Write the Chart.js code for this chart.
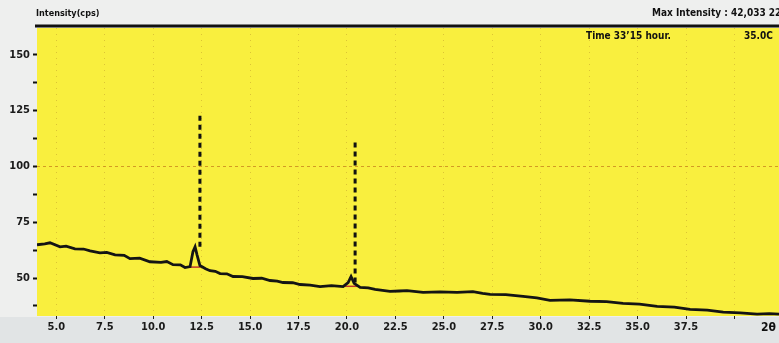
<!DOCTYPE html>
<html>
<head>
<meta charset="utf-8">
<script src="https://cdn.jsdelivr.net/npm/chart.js@4/dist/chart.umd.min.js"></script>
<style>
  html, body { margin: 0; padding: 0; background: #eeefee; }
  #wrap { width: 779px; height: 343px; position: relative; }
</style>
</head>
<body>
<div id="wrap"><canvas id="xrd" width="779" height="343"></canvas></div>
<script>
/* ===============================
   DATA
=============================== */
const twoTheta = [
  4.0, 4.4, 4.67, 5.19, 5.5, 5.96, 6.4, 6.74, 7.25, 7.6, 8.03, 8.5, 8.8, 9.3,
  9.83, 10.4, 10.7, 11.02, 11.4, 11.64, 11.9, 12.05, 12.16, 12.26, 12.41,
  12.7, 12.93, 13.2, 13.45, 13.8, 14.12, 14.6, 15.15, 15.6, 16.03, 16.4, 16.7,
  17.2, 17.58, 18.1, 18.61, 19.2, 19.8, 20.06, 20.21, 20.37, 20.68, 21.1,
  21.45, 22.22, 22.7, 23.1, 23.93, 24.8, 25.68, 26.5, 27.0, 27.39, 28.2,
  29.09, 29.8, 30.48, 31.5, 32.55, 33.4, 34.25, 35.1, 36.01, 36.9, 37.71,
  38.6, 39.42, 40.3, 41.17, 41.8, 42.3
];
const intensity = [
  64.9, 65.3, 65.8, 64.0, 64.3, 63.1, 63.0, 62.2, 61.3, 61.5, 60.4, 60.2, 58.7,
  58.9, 57.3, 57.0, 57.4, 56.0, 55.9, 54.7, 55.1, 61.8, 64.0, 60.4, 55.6,
  54.2, 53.3, 53.0, 52.0, 51.9, 50.7, 50.6, 49.8, 49.9, 48.9, 48.6, 48.0,
  47.9, 47.1, 46.8, 46.2, 46.6, 46.2, 48.0, 50.7, 47.6, 45.8, 45.6,
  44.9, 44.0, 44.2, 44.4, 43.6, 43.8, 43.6, 43.9, 43.1, 42.7, 42.6,
  41.8, 41.1, 40.0, 40.2, 39.6, 39.4, 38.7, 38.3, 37.3, 37.0, 36.0,
  35.6, 34.7, 34.4, 33.8, 34.1, 33.8
];

// reference peak markers (dashed sticks)
const markerPos = [12.41, 20.42];
const markerTop = [124.0, 111.6];
const markerBase = [64.0, 48.0];

// small red base segments under the two peaks
const peakBaseFrom = [11.8, 19.9];
const peakBaseTo = [12.45, 20.6];
const peakBaseLevel = [54.9, 46.3];

const yLabels = [50, 75, 100, 125, 150];

/* ===============================
   HELPERS
=============================== */
const FONT = '"DejaVu Sans Condensed", "Liberation Sans Narrow", "DejaVu Sans", sans-serif';
const series = twoTheta.map((x, i) => ({ x, y: intensity[i] }));

const markerSets = markerPos.map((x, i) => ({
  data: [{ x, y: markerBase[i] }, { x, y: markerTop[i] }],
  borderColor: '#111',
  borderWidth: 3,
  borderDash: [5, 4],
  pointRadius: 0,
  fill: false
}));

const baseSets = peakBaseFrom.map((x, i) => ({
  data: [{ x, y: peakBaseLevel[i] }, { x: peakBaseTo[i], y: peakBaseLevel[i] }],
  borderColor: '#c0392b',
  borderWidth: 1.5,
  pointRadius: 0,
  fill: false
}));

/* ===============================
   PAPER PLUGIN (yellow plot + header)
=============================== */
const paper = {
  id: 'paper',
  beforeDraw(chart) {
    const { ctx, chartArea: a } = chart;
    ctx.save();
    ctx.fillStyle = 'rgb(249, 239, 62)';
    ctx.fillRect(a.left, a.top, a.right - a.left, a.bottom - a.top);
    ctx.fillStyle = '#e1e4e5';
    ctx.fillRect(0, a.bottom + 1, chart.width, chart.height - a.bottom);
    ctx.restore();
  },
  afterDraw(chart) {
    const { ctx, chartArea: a } = chart;
    ctx.save();
    // top frame line
    ctx.strokeStyle = '#111';
    ctx.lineWidth = 3;
    ctx.beginPath();
    ctx.moveTo(a.left - 2, a.top - 2);
    ctx.lineTo(chart.width, a.top - 2);
    ctx.stroke();

    ctx.fillStyle = '#111';
    ctx.textBaseline = 'middle';
    ctx.font = 'bold 9px ' + FONT;
    ctx.fillText('Intensity(cps)', 36, 14);
    ctx.font = 'bold 10px ' + FONT;
    ctx.fillText('Max Intensity : 42,033 224', 652, 13);
    ctx.fillText('Time 33\u201915 hour.', 586, 36);
    ctx.fillText('35.0C', 744, 36);
    ctx.font = 'bold 12px ' + FONT;
    ctx.fillText('2\u03b8', 761, 328);
    ctx.restore();
  }
};

/* ===============================
   CHART
=============================== */
new Chart(document.getElementById('xrd'), {
  type: 'line',
  data: {
    datasets: [
      {
        data: series,
        borderColor: '#141414',
        borderWidth: 2.8,
        pointRadius: 0,
        tension: 0,
        fill: false
      },
      ...baseSets,
      ...markerSets
    ]
  },
  options: {
    responsive: false,
    animation: false,
    events: [],
    layout: { padding: { top: 28, right: 0, left: 0, bottom: 0 } },
    plugins: { legend: { display: false }, tooltip: { enabled: false } },
    scales: {
      x: {
        type: 'linear',
        min: 4.0,
        max: 42.3,
        afterFit: s => { s.height = 27; },
        border: { display: false, dash: [1, 5] },
        grid: {
          color: 'rgba(185, 145, 40, 0.45)',
          tickColor: '#222',
          tickLength: 3
        },
        ticks: {
          stepSize: 2.5,
          includeBounds: false,
          padding: 2,
          maxRotation: 0,
          autoSkip: false,
          color: '#1a1a1a',
          font: { family: FONT, size: 11, weight: 'bold' },
          callback: v => (v > 38 ? '' : Number(v).toFixed(1))
        }
      },
      y: {
        min: 33,
        max: 162,
        afterFit: s => { s.width = 37; },
        afterBuildTicks: s => {
          const t = [];
          for (let v = 37.5; v <= 162; v += 12.5) t.push({ value: v });
          s.ticks = t;
        },
        border: { display: false, dash: [3, 3] },
        grid: {
          color: c => (c.tick && c.tick.value === 100 ? 'rgba(205, 140, 30, 0.85)' : 'rgba(0,0,0,0)'),
          lineWidth: 1,
          tickColor: '#111',
          tickWidth: 2,
          tickLength: 4
        },
        ticks: {
          padding: 3,
          color: '#1a1a1a',
          font: { family: FONT, size: 11, weight: 'bold' },
          callback: v => (yLabels.includes(v) ? String(v) : '')
        }
      }
    }
  },
  plugins: [paper]
});
</script>
</body>
</html>
